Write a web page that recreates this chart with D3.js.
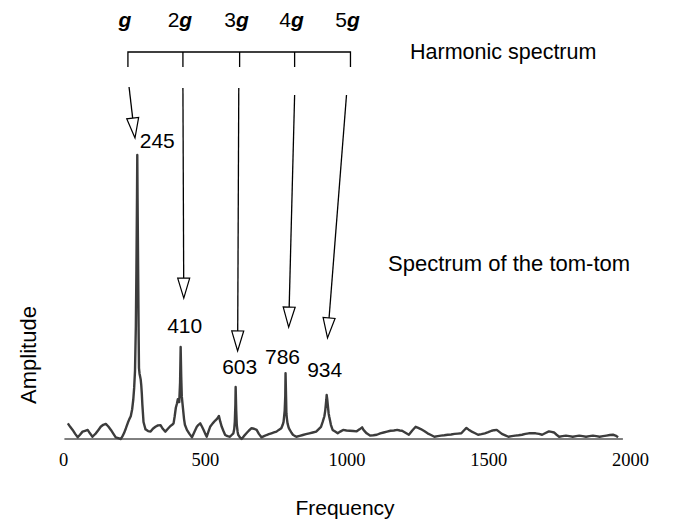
<!DOCTYPE html>
<html><head><meta charset="utf-8">
<script src="https://cdn.jsdelivr.net/npm/d3@7"></script>
<style>html,body{margin:0;padding:0;background:#fff;}svg{display:block;}</style>
</head><body>
<svg id="c" width="677" height="521"></svg>
<script>
// ---- data ----
const freq = [17,26,34,43,52,60,69,78,87,95,104,110,116,125,133,142,151,160,169,178,186,195,204,210,215,222,229,234,239,244,248,251,254,257,259,261,262,263,265,267,268,270,272,274,276,278,280,282,284,288,291,300,309,317,326,335,344,352,361,370,379,385,390,394,398,402,405,408,410,413,415,417,419,421,423,427,430,437,446,455,463,472,478,484,490,496,502,507,513,519,528,537,544,550,555,560,566,572,580,589,595,601,604,606,608,609,611,613,616,618,624,630,638,647,656,665,674,683,691,700,709,718,726,735,744,753,761,770,775,778,780,782,784,785,787,788,790,792,796,800,806,811,817,823,835,846,857,869,881,893,902,910,916,922,925,927,929,930,932,934,937,939,945,951,960,969,978,988,1000,1012,1024,1036,1046,1055,1060,1071,1083,1095,1107,1119,1131,1143,1155,1167,1179,1188,1196,1208,1220,1232,1244,1253,1262,1274,1286,1298,1310,1322,1333,1345,1357,1369,1381,1393,1405,1414,1423,1431,1440,1452,1464,1476,1488,1500,1512,1521,1530,1539,1548,1560,1571,1583,1595,1607,1619,1631,1643,1655,1667,1679,1690,1702,1714,1723,1732,1741,1750,1762,1774,1786,1798,1810,1821,1833,1845,1857,1869,1881,1893,1905,1917,1929,1940,1949,1958,1967];
const amp  = [5.5,4.2,3.2,1.8,0.6,1.5,2.6,2.9,3.2,2.0,0.8,1.4,2.0,3.2,4.3,5.0,5.3,4.4,3.2,1.8,0.6,0.3,0.0,1.0,2.0,3.8,5.8,7.0,8.0,10.5,14,18,24,40,60,85,100,85,60,35,25,23,22,21,19,16,12,9,6,4.5,3.4,2.8,2.6,3.6,4.3,4.8,4.9,3.6,2.6,3.6,4.6,5.0,5.5,8,11,12.5,14,13,13,20,32.4,22,15,13,11,7,5,3.2,1.8,0.6,2.4,4.3,5.0,5.5,4.4,3.2,1.8,0.8,2.6,4.3,5.5,6.5,7.2,8.1,6,4.3,2.8,1.4,1.0,0.8,1.4,2.0,3.5,6,12,18.3,10,5,2.5,1.5,0.6,0.0,1.0,2.0,3.0,3.8,3.6,3.2,1.8,0.6,1.0,1.4,1.7,2.0,2.3,2.6,3.2,3.8,5,6,8,10,15,23.2,14,9,7,5.5,4,3.2,2.2,1.5,1.1,0.8,1.1,1.4,1.7,2.0,2.3,2.6,3.5,4.3,6,8,10,12,14,15.5,14,12,9,7.9,5,3.2,2.6,2.0,2.6,3.2,3.0,2.9,2.8,2.7,3.4,4.1,3.2,2.0,1.2,1.3,1.5,2.0,2.3,2.6,2.9,3.0,3.2,3.0,2.9,2.2,1.5,3.0,4.3,3.9,3.5,2.8,2.0,1.4,0.8,1.0,1.2,1.3,1.5,1.6,1.8,1.9,2.0,3.0,3.9,3.3,2.7,2.1,1.5,1.7,2.0,2.4,2.9,3.1,3.2,2.5,1.8,1.3,0.8,1.0,1.2,1.3,1.5,1.8,2.0,2.0,2.0,1.8,1.5,2.1,2.7,2.5,2.3,1.5,0.8,1.0,1.2,1.0,0.8,1.0,1.2,1.0,0.8,1.0,1.2,1.0,0.8,1.0,1.2,1.4,1.5,1.2,0.6];

const xTicks = [0, 500, 1000, 1500, 2000];
const peakFreqs  = [262, 415, 609, 785, 930];
const peakAmps   = [100, 32.4, 18.3, 23.2, 15.5];
const peakLabels = ["245", "410", "603", "786", "934"];

const harmonicNums   = ["", "2", "3", "4", "5"];
const harmonicFreqs  = [229, 423, 623, 817, 1014];
const arrowStartFreq = [233, 423, 620, 817, 1000];
const arrowTipFreq   = [254, 426, 616, 796, 933];
const arrowTipAmp    = [106, 49.6, 31, 39.4, 35.6];

// ---- layout ----
const svg = d3.select("#c");
const x = d3.scaleLinear().domain([0, 2000]).range([63, 630]);
const y = d3.scaleLinear().domain([0, 100]).range([439, 155]);
const sans = "'Liberation Sans', Arial, Helvetica, sans-serif";
const serif = "'Liberation Serif', 'Times New Roman', serif";

// axis
const axis = d3.axisBottom(x).tickValues(xTicks).tickSize(0).tickPadding(14).tickFormat(d3.format("d"));
const gAx = svg.append("g").attr("transform", `translate(0,${y(0)})`).call(axis);
gAx.select(".domain").attr("stroke", "#000").attr("stroke-width", 1).attr("d", `M${x(5)},0H${x(1975)}`);
gAx.selectAll(".tick text").attr("font-family", serif).attr("font-size", 18.5).attr("fill", "#000");

// trace
const pts = freq.map((f, i) => [f, amp[i]]);
svg.append("path").datum(pts)
  .attr("fill", "none").attr("stroke", "#3c3c3c").attr("stroke-width", 2.4)
  .attr("stroke-linejoin", "round")
  .attr("d", d3.line().x(d => x(d[0])).y(d => y(d[1])));

// peak labels
const lblOff = [[20, -7], [4, -14], [4, -13], [-3, -9], [-2, -18]];
svg.selectAll("text.pk").data(peakLabels).enter().append("text")
  .attr("class", "pk")
  .attr("x", (d, i) => x(peakFreqs[i]) + lblOff[i][0])
  .attr("y", (d, i) => y(peakAmps[i]) + lblOff[i][1])
  .attr("text-anchor", "middle").attr("font-family", sans).attr("font-size", 21)
  .text(d => d);

// harmonic bracket
const brY = 52, brTick = 67;
svg.append("path").attr("fill", "none").attr("stroke", "#000").attr("stroke-width", 1.3)
  .attr("d", `M${x(harmonicFreqs[0])},${brTick}V${brY}H${x(harmonicFreqs[4])}V${brTick}` +
    harmonicFreqs.slice(1, 4).map(f => `M${x(f)},${brY}V${brTick}`).join(""));

// harmonic labels
const hl = svg.selectAll("text.hl").data(harmonicNums).enter().append("text")
  .attr("class", "hl")
  .attr("x", (d, i) => x(harmonicFreqs[i]) - 3)
  .attr("y", 27).attr("text-anchor", "middle")
  .attr("font-family", sans).attr("font-size", 21);
hl.append("tspan").text(d => d);
hl.append("tspan").attr("font-weight", "bold").attr("font-style", "italic").text("g");

// arrows
const startY = [87, 88, 88, 95, 95];
arrowTipFreq.forEach((f, i) => {
  const x0 = x(arrowStartFreq[i]), y0 = startY[i];
  const x1 = x(f), y1 = y(arrowTipAmp[i]);
  const dx = x1 - x0, dy = y1 - y0, L = Math.hypot(dx, dy);
  const ux = dx / L, uy = dy / L;
  const hl = 20, hw = 6;
  const bx = x1 - ux * hl, by = y1 - uy * hl;
  svg.append("line").attr("x1", x0).attr("y1", y0).attr("x2", bx).attr("y2", by)
    .attr("stroke", "#000").attr("stroke-width", 1.3);
  svg.append("path")
    .attr("d", `M${x1},${y1}L${bx - uy * hw},${by + ux * hw}L${bx + uy * hw},${by - ux * hw}Z`)
    .attr("fill", "#fff").attr("stroke", "#000").attr("stroke-width", 1.2);
});

// titles
svg.append("text").attr("x", 410).attr("y", 59).attr("font-family", sans).attr("font-size", 21.5)
  .text("Harmonic spectrum");
svg.append("text").attr("x", 388).attr("y", 271).attr("font-family", sans).attr("font-size", 22)
  .text("Spectrum of the tom-tom");
svg.append("text").attr("x", 345).attr("y", 515).attr("text-anchor", "middle")
  .attr("font-family", sans).attr("font-size", 21).text("Frequency");
svg.append("text").attr("transform", "translate(36,355) rotate(-90)").attr("text-anchor", "middle")
  .attr("font-family", sans).attr("font-size", 22).text("Amplitude");
</script>
</body></html>
